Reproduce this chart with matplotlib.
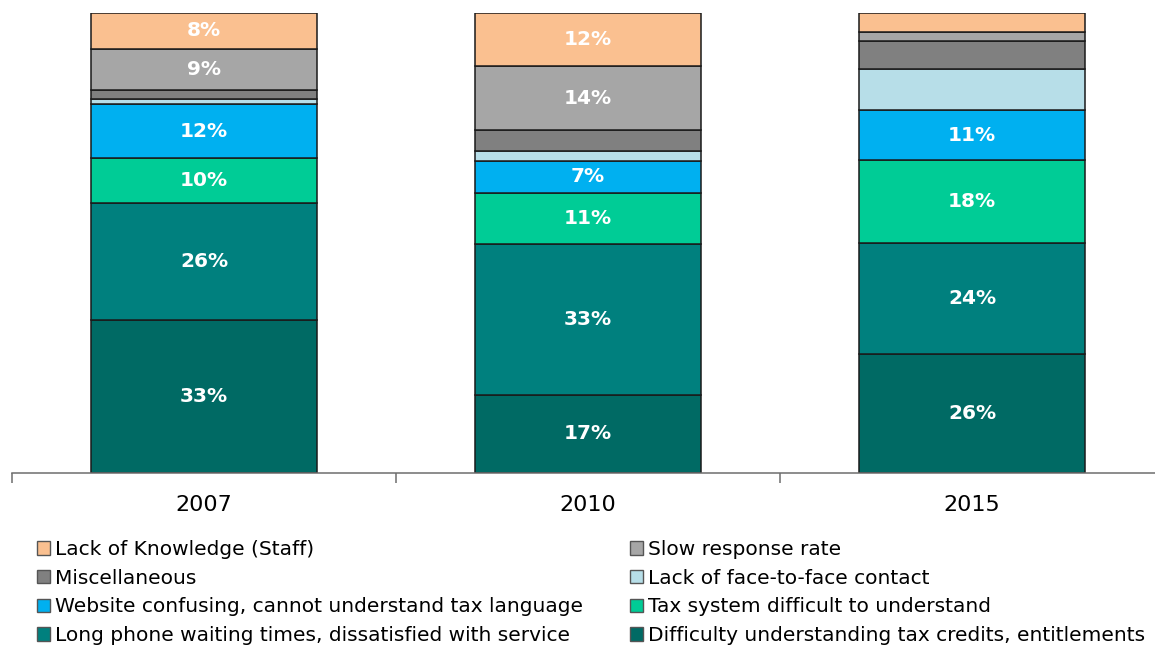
import matplotlib.pyplot as plt
from matplotlib.patches import Patch
import numpy as np

# share of complaints per year, bottom segment first
years = ['2007', '2010', '2015']
categories = [
    'Difficulty understanding tax credits, entitlements',
    'Long phone waiting times, dissatisfied with service',
    'Tax system difficult to understand',
    'Website confusing, cannot understand tax language',
    'Lack of face-to-face contact',
    'Miscellaneous',
    'Slow response rate',
    'Lack of Knowledge (Staff)',
]
difficulty = [33.2, 17.0, 25.9]
long_phone = [25.6, 32.8, 24.1]
tax_system = [9.6, 11.1, 18.0]
website = [11.8, 7.0, 10.9]
face_to_face = [1.2, 2.0, 8.9]
misc = [1.9, 4.6, 6.1]
slow_response = [8.9, 14.0, 2.0]
knowledge = [7.8, 11.5, 4.1]

# which segments carry a value label
show_label = [
    [True, True, True],
    [True, True, True],
    [True, True, True],
    [True, True, True],
    [False, False, False],
    [False, False, False],
    [True, True, False],
    [True, True, False],
]

colors = ['#006a64', '#00807e', '#00cc96', '#00b0f0',
          '#b7dee8', '#808080', '#a6a6a6', '#fac090']

series = [difficulty, long_phone, tax_system, website,
          face_to_face, misc, slow_response, knowledge]

plt.rcParams['font.family'] = ['DejaVu Sans']
fig = plt.figure(figsize=(11.55, 6.45), dpi=100)
ax = fig.add_axes([12 / 1155, (645 - 473) / 645, 1152 / 1155, 460 / 645])

x = np.arange(len(years))
bottom = np.zeros(len(years))
for vals, col, mask in zip(series, colors, show_label):
    vals = np.array(vals)
    ax.bar(x, vals, 0.59, bottom=bottom, color=col, edgecolor='#1a1a1a', linewidth=1.1)
    for xi, b, v, m in zip(x, bottom, vals, mask):
        if m:
            ax.text(xi, b + v / 2, f'{v:.0f}%', ha='center', va='center',
                    color='white', fontsize=14.5, fontweight='bold')
    bottom += vals

ax.set_xlim(-0.5, 2.5)
ax.set_ylim(0, 100)
for s in ['top', 'right', 'left']:
    ax.spines[s].set_visible(False)
ax.spines['bottom'].set_color('#6e6e6e')
ax.spines['bottom'].set_linewidth(1.1)
ax.set_yticks([])

ax.set_xticks(x)
ax.set_xticklabels(years, fontsize=16)
ax.tick_params(axis='x', which='major', length=0, pad=16)
ax.set_xticks([-0.5, 0.5, 1.5, 2.5], minor=True)
ax.tick_params(axis='x', which='minor', length=7, width=1.1, color='#6e6e6e', direction='out')

handles = [Patch(facecolor=c, edgecolor='#555555', linewidth=1) for c in colors]
left_idx = [7, 5, 3, 1]
right_idx = [6, 4, 2, 0]
for idx, xpos in [(left_idx, 29 / 1155), (right_idx, 622 / 1155)]:
    fig.legend([handles[i] for i in idx], [categories[i] for i in idx],
               loc='upper left', bbox_to_anchor=(xpos, 1 - 532 / 645),
               frameon=False, fontsize=14.5, handlelength=0.65, handleheight=0.65,
               handletextpad=0.25, labelspacing=0.48, borderaxespad=0)

fig.savefig('out.png', dpi=100)
